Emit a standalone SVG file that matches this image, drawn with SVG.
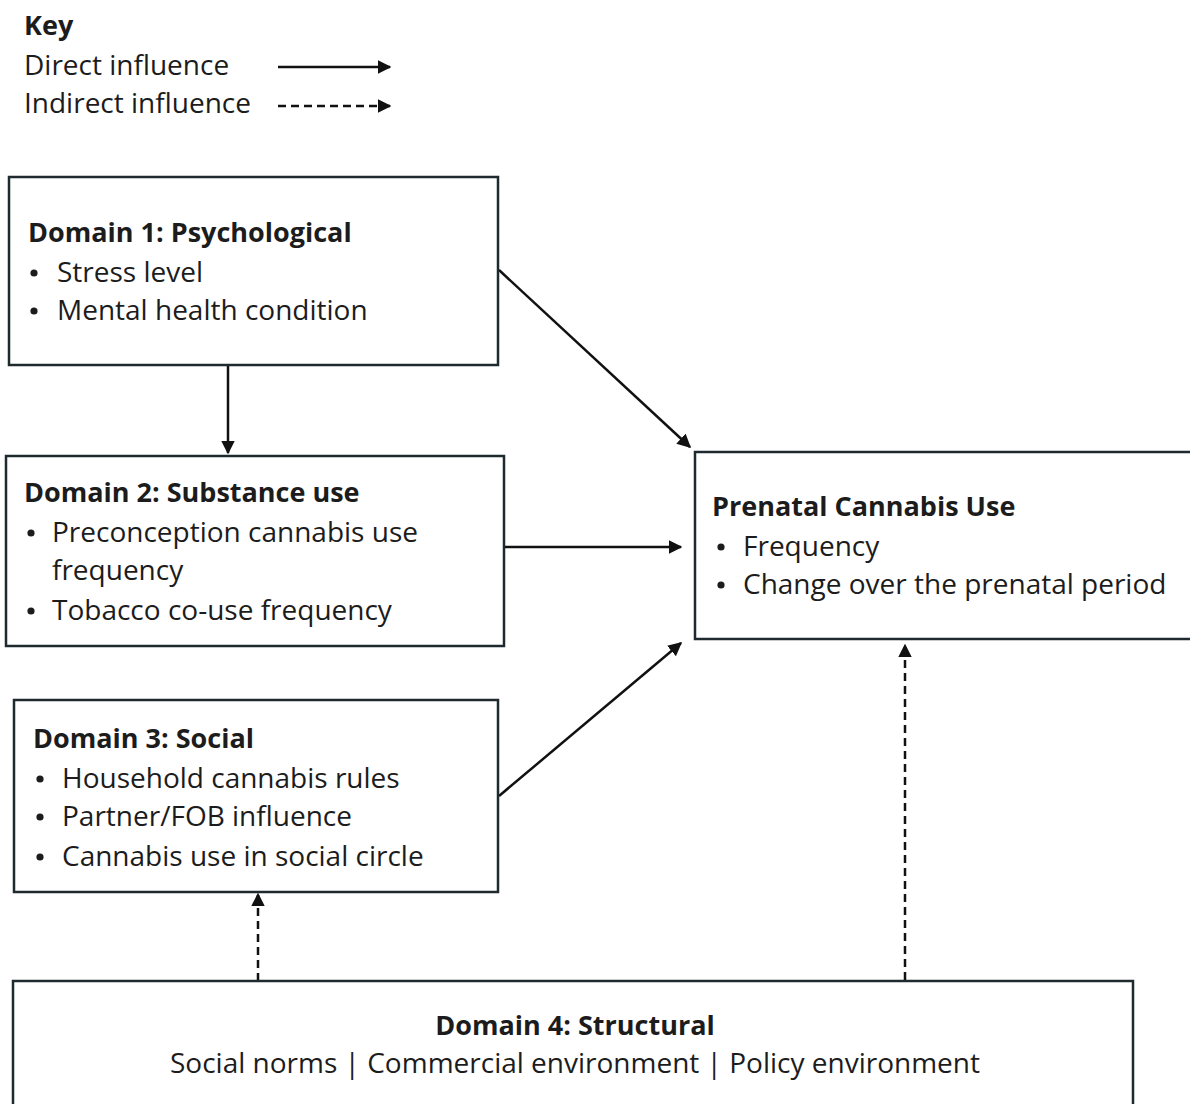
<svg xmlns="http://www.w3.org/2000/svg" width="1190" height="1104" viewBox="0 0 1190 1104">
<defs>
<style>
.box{fill:#ffffff;stroke:#1e2a2e;stroke-width:2.5}
.t{font-family:"Open Sans","Liberation Sans",sans-serif;font-size:28px;fill:#1c1c1c}
.b{font-weight:bold;font-size:27px}
.dot{fill:#1c1c1c}
.ln{stroke:#111;stroke-width:2.5;fill:none}
.dash{stroke-dasharray:8 5}
</style>
<marker id="ah" viewBox="0 0 10 10" refX="9" refY="5" markerWidth="5.5" markerHeight="5.5" orient="auto" markerUnits="strokeWidth">
<path d="M0,0 L10,5 L0,10 z" fill="#111"/>
</marker>
</defs>
<rect width="1190" height="1104" fill="#ffffff"/>

<g id="key">
<text class="t b" x="24" y="35">Key</text>
<text class="t" x="24" y="75">Direct influence</text>
<text class="t" x="24" y="113">Indirect influence</text>
<line class="ln" x1="278" y1="67" x2="390" y2="67" marker-end="url(#ah)"/>
<line class="ln dash" x1="278" y1="106" x2="390" y2="106" marker-end="url(#ah)"/>
</g>

<g id="connectors">
<line class="ln" x1="228" y1="366" x2="228" y2="453" marker-end="url(#ah)"/>
<line class="ln" x1="499" y1="270" x2="690" y2="447" marker-end="url(#ah)"/>
<line class="ln" x1="505" y1="547" x2="681" y2="547" marker-end="url(#ah)"/>
<line class="ln" x1="499" y1="796" x2="681" y2="643" marker-end="url(#ah)"/>
<line class="ln dash" x1="258" y1="981" x2="258" y2="894" marker-end="url(#ah)"/>
<line class="ln dash" x1="905" y1="980" x2="905" y2="645" marker-end="url(#ah)"/>
</g>

<g id="domain1">
<rect class="box" x="9" y="177" width="489" height="188"/>
<text class="t b" x="28" y="242">Domain 1: Psychological</text>
<circle class="dot" cx="34" cy="273" r="3.6"/><text class="t" x="57" y="282">Stress level</text>
<circle class="dot" cx="34" cy="311" r="3.6"/><text class="t" x="57" y="320">Mental health condition</text>
</g>

<g id="domain2">
<rect class="box" x="6" y="456" width="498" height="190"/>
<text class="t b" x="24" y="502">Domain 2: Substance use</text>
<circle class="dot" cx="31" cy="533" r="3.6"/><text class="t" x="52" y="542">Preconception cannabis use</text>
<text class="t" x="52" y="580">frequency</text>
<circle class="dot" cx="31" cy="611" r="3.6"/><text class="t" x="52" y="620">Tobacco co-use frequency</text>
</g>

<g id="domain3">
<rect class="box" x="14" y="700" width="484" height="192"/>
<text class="t b" x="33" y="748">Domain 3: Social</text>
<circle class="dot" cx="40" cy="779" r="3.6"/><text class="t" x="62" y="788">Household cannabis rules</text>
<circle class="dot" cx="40" cy="817" r="3.6"/><text class="t" x="62" y="826">Partner/FOB influence</text>
<circle class="dot" cx="40" cy="857" r="3.6"/><text class="t" x="62" y="866">Cannabis use in social circle</text>
</g>

<g id="prenatal">
<rect class="box" x="695" y="452" width="500" height="187"/>
<text class="t b" x="712" y="516">Prenatal Cannabis Use</text>
<circle class="dot" cx="721" cy="547" r="3.6"/><text class="t" x="743" y="556">Frequency</text>
<circle class="dot" cx="721" cy="585" r="3.6"/><text class="t" x="743" y="594">Change over the prenatal period</text>
</g>

<g id="domain4">
<rect class="box" x="13" y="981" width="1120" height="130"/>
<text class="t b" x="575" y="1035" text-anchor="middle">Domain 4: Structural</text>
<text class="t" x="575" y="1073" text-anchor="middle">Social norms | Commercial environment | Policy environment</text>
</g>
</svg>
